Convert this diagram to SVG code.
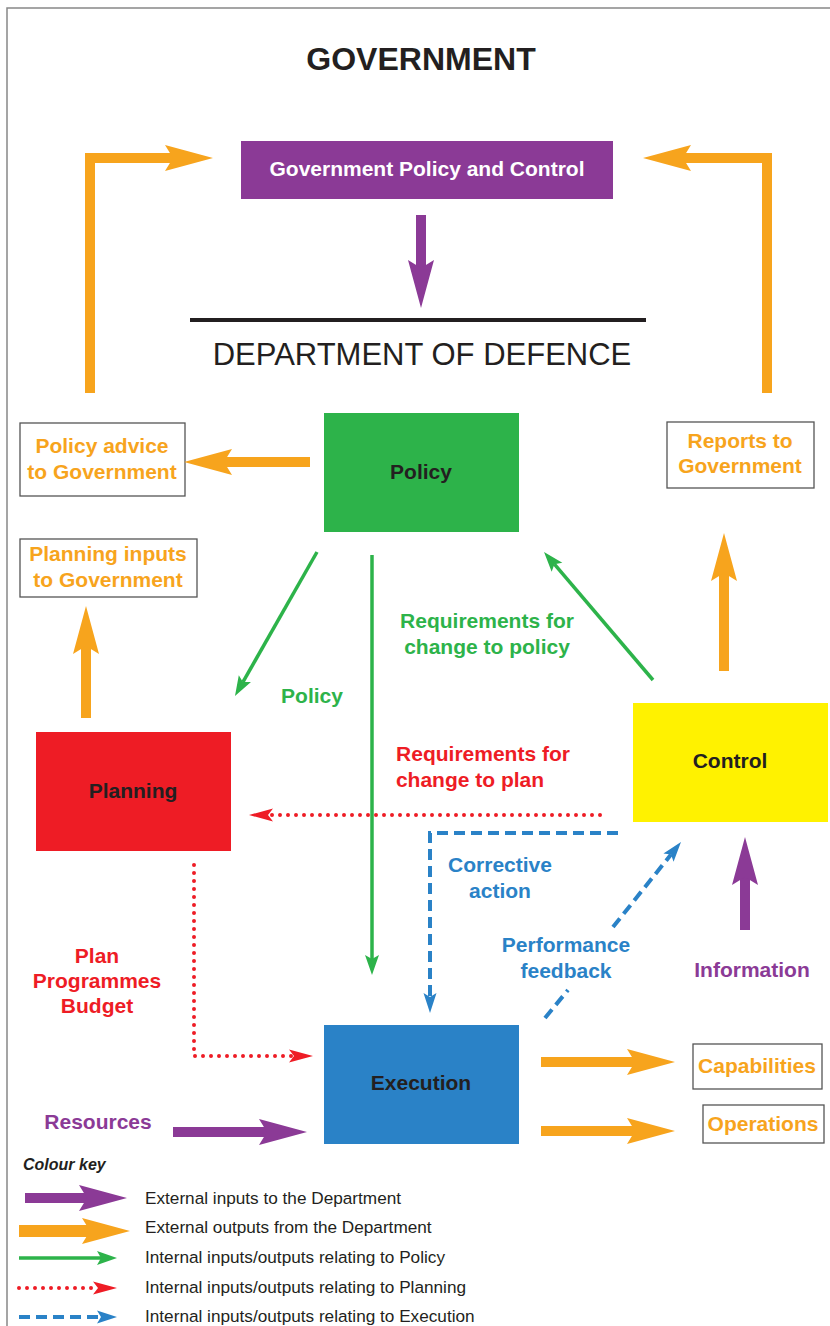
<svg xmlns="http://www.w3.org/2000/svg" width="830" height="1326" viewBox="0 0 830 1326">
<style>
text{font-family:"Liberation Sans",Arial,Helvetica,sans-serif}
.b{font-weight:bold}
.lbl{font-size:21px;font-weight:bold;text-anchor:middle}
.node{font-size:21px;font-weight:bold;text-anchor:middle;fill:#231F20}
.or{fill:#F7A41D}.pu{fill:#8B3A96}.gr{fill:#2DB34A}.rd{fill:#EE1C25}.bl{fill:#2A82C7}
.key{font-size:17.2px;fill:#231F20}
.obox{fill:#fff;stroke:#555;stroke-width:1.3}
.so{fill:none;stroke:#F7A41D;stroke-width:10;stroke-linejoin:miter;marker-end:url(#mO)}
.sp{fill:none;stroke:#8B3A96;stroke-width:10;marker-end:url(#mP)}
.sg{fill:none;stroke:#2DB34A;stroke-width:3.5;marker-end:url(#mG)}
.sr{fill:none;stroke:#EE1C25;stroke-width:4;stroke-linecap:round;stroke-dasharray:0 8;marker-end:url(#mR)}
.sb{fill:none;stroke:#2A82C7;stroke-width:4;stroke-dasharray:11 6}
</style>
<defs>
<marker id="mO" markerUnits="userSpaceOnUse" markerWidth="48" markerHeight="26" refX="8" refY="13" orient="auto" overflow="visible"><path d="M0,0 L48,13 L0,26 L8,13 z" fill="#F7A41D"/></marker>
<marker id="mP" markerUnits="userSpaceOnUse" markerWidth="48" markerHeight="26" refX="8" refY="13" orient="auto" overflow="visible"><path d="M0,0 L48,13 L0,26 L8,13 z" fill="#8B3A96"/></marker>
<marker id="mG" markerUnits="userSpaceOnUse" markerWidth="20" markerHeight="14" refX="4" refY="7" orient="auto" overflow="visible"><path d="M0,0 L20,7 L0,14 L4,7 z" fill="#2DB34A"/></marker>
<marker id="mR" markerUnits="userSpaceOnUse" markerWidth="24" markerHeight="13" refX="5" refY="6.5" orient="auto" overflow="visible"><path d="M0,0 L24,6.5 L0,13 L5,6.5 z" fill="#EE1C25"/></marker>
<marker id="mB" markerUnits="userSpaceOnUse" markerWidth="20" markerHeight="13" refX="4" refY="6.5" orient="auto" overflow="visible"><path d="M0,0 L20,6.5 L0,13 L4,6.5 z" fill="#2A82C7"/></marker>
</defs>
<rect width="830" height="1326" fill="#fff"/>
<path d="M7,1326 V8 H830" fill="none" stroke="#888" stroke-width="1.5"/>

<text x="421" y="70" text-anchor="middle" class="b" font-size="32" fill="#231F20">GOVERNMENT</text>
<line x1="190" y1="320" x2="646" y2="320" stroke="#231F20" stroke-width="4"/>
<text x="422" y="365" text-anchor="middle" font-size="31" fill="#231F20">DEPARTMENT OF DEFENCE</text>

<g id="gov">
<rect x="241" y="141" width="372" height="58" fill="#8B3A96"/>
<text x="427" y="176" class="lbl" fill="#fff">Government Policy and Control</text>
</g>
<g id="policy">
<rect x="324" y="413" width="195" height="119" fill="#2DB34A"/>
<text x="421" y="479" class="node">Policy</text>
</g>
<g id="planning">
<rect x="36" y="732" width="195" height="119" fill="#EE1C25"/>
<text x="133" y="798" class="node">Planning</text>
</g>
<g id="control">
<rect x="633" y="703" width="195" height="119" fill="#FFF200"/>
<text x="730" y="768" class="node">Control</text>
</g>
<g id="execution">
<rect x="324" y="1025" width="195" height="119" fill="#2A82C7"/>
<text x="421" y="1090" class="node">Execution</text>
</g>
<g id="policy-advice">
<rect x="20" y="423" width="165" height="73" class="obox"/>
<text x="102" y="453" class="lbl or">Policy advice</text>
<text x="102" y="479" class="lbl or">to Government</text>
</g>
<g id="planning-inputs">
<rect x="20" y="539" width="177" height="58" class="obox"/>
<text x="108" y="561" class="lbl or">Planning inputs</text>
<text x="108" y="587" class="lbl or">to Government</text>
</g>
<g id="reports">
<rect x="667" y="422" width="147" height="66" class="obox"/>
<text x="740" y="448" class="lbl or">Reports to</text>
<text x="740" y="473" class="lbl or">Government</text>
</g>
<g id="capabilities">
<rect x="693" y="1044" width="129" height="45" class="obox"/>
<text x="757" y="1073" class="lbl or">Capabilities</text>
</g>
<g id="operations">
<rect x="703" y="1105" width="121" height="38" class="obox"/>
<text x="763" y="1131" class="lbl or">Operations</text>
</g>

<g id="connectors">
<path class="so" d="M90,393 V158 H173"/>
<path class="so" d="M767,393 V158 H683"/>
<path class="sp" d="M421,215 V268"/>
<path class="so" d="M310,462 H224"/>
<path class="so" d="M86,718 V646"/>
<path class="so" d="M724,671 V573"/>
<path class="so" d="M541,1062 H635"/>
<path class="so" d="M541,1131 H635"/>
<path class="sp" d="M745,930 V877"/>
<path class="sp" d="M173,1132 H267"/>
<path class="sg" d="M653,680 L554.4,564.2"/>
<path class="sg" d="M317,552 L242.9,682.1"/>
<path class="sg" d="M372,555 V959"/>
<path class="sr" d="M600,815 H268"/>
<path class="sr" d="M194,865 V1056 H294"/>
<path class="sb" d="M618,833 H430 V997" marker-end="url(#mB)"/>
<path class="sb" d="M545,1018 L568,990"/>
<path class="sb" d="M613,927 L671,854.5" marker-end="url(#mB)"/>
</g>

<g id="labels">
<text x="487" y="628" class="lbl gr">Requirements for</text>
<text x="487" y="654" class="lbl gr">change to policy</text>
<text x="312" y="703" class="lbl gr">Policy</text>
<text x="483" y="761" class="lbl rd">Requirements for</text>
<text x="470" y="787" class="lbl rd">change to plan</text>
<text x="97" y="963" class="lbl rd">Plan</text>
<text x="97" y="988" class="lbl rd">Programmes</text>
<text x="97" y="1013" class="lbl rd">Budget</text>
<text x="500" y="872" class="lbl bl">Corrective</text>
<text x="500" y="898" class="lbl bl">action</text>
<text x="566" y="952" class="lbl bl">Performance</text>
<text x="566" y="978" class="lbl bl">feedback</text>
<text x="752" y="977" class="lbl pu">Information</text>
<text x="98" y="1129" class="lbl pu">Resources</text>
</g>

<g id="key">
<text x="23" y="1170" class="b" font-style="italic" font-size="16" fill="#231F20">Colour key</text>
<path class="sp" d="M25,1198 H87"/>
<path fill="none" stroke="#F7A41D" stroke-width="12" d="M19,1231 H90" marker-end="url(#mO)"/>
<path class="sg" d="M19,1258 H101"/>
<path class="sr" d="M19,1288 H98"/>
<path class="sb" d="M19,1317 H101" marker-end="url(#mB)"/>
<text x="145" y="1204" class="key">External inputs to the Department</text>
<text x="145" y="1233" class="key">External outputs from the Department</text>
<text x="145" y="1263" class="key">Internal inputs/outputs relating to Policy</text>
<text x="145" y="1293" class="key">Internal inputs/outputs relating to Planning</text>
<text x="145" y="1322" class="key">Internal inputs/outputs relating to Execution</text>
</g>
</svg>
